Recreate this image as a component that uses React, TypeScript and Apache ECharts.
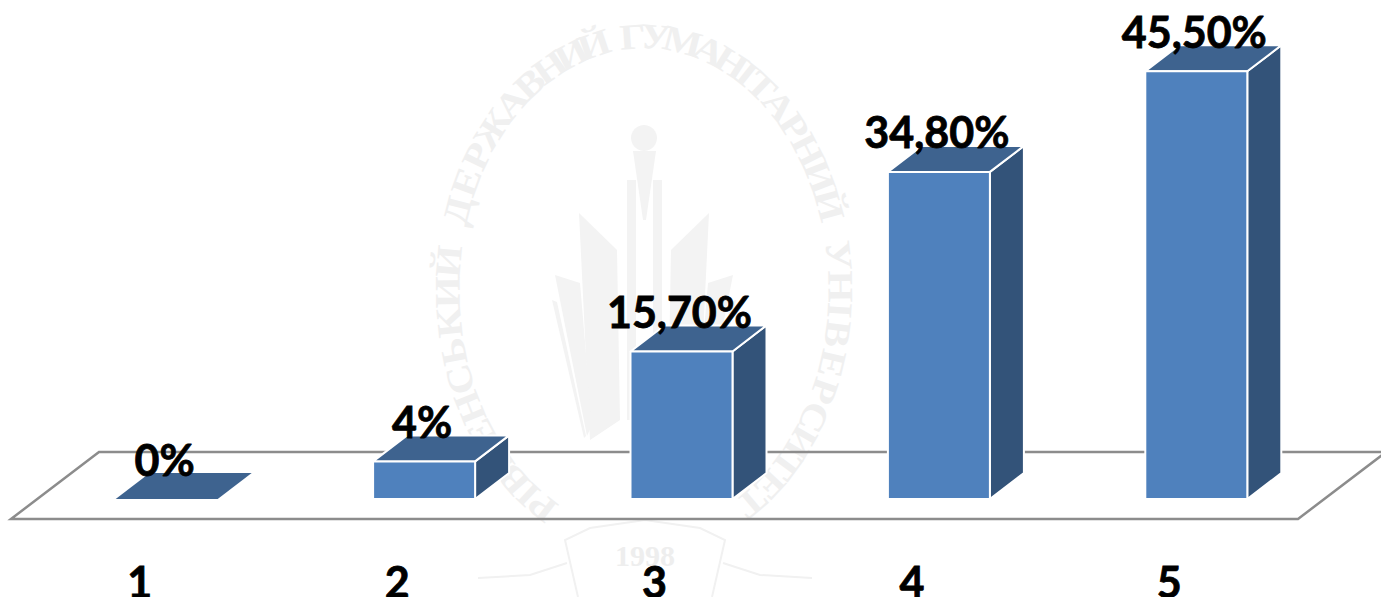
import React, { useEffect, useRef } from "react";
import * as echarts from "echarts";

const categories = ["1", "2", "3", "4", "5"];
const values = [0, 4, 15.7, 34.8, 45.5];
const valueLabels = ["0%", "4%", "15,70%", "34,80%", "45,50%"];

const WATERMARK_TEXT = "РІВНЕНСЬКИЙ ДЕРЖАВНИЙ ГУМАНІТАРНИЙ УНІВЕРСИТЕТ";
const WM = "#f0f0f0";
const WM2 = "#f3f3f3";
const FONT = "Lato, Carlito, sans-serif";

function watermark(): any[] {
  const cx = 644, cy = 290, rx = 197, ry = 254;
  const chars = Array.from(WATERMARK_TEXT);
  const weight = (c: string) =>
    c === " " ? 0.7 : c === "І" ? 0.55 : "ЖШЩМ".includes(c) ? 1.3 : c === "Г" || c === "Т" || c === "Р" || c === "Ь" ? 0.9 : 1;
  const total = chars.reduce((s, c) => s + weight(c), 0);
  const items: any[] = [];
  let acc = 0;
  chars.forEach((ch) => {
    const w = weight(ch);
    const mid = acc + w / 2;
    acc += w;
    if (ch === " ") return;
    const t = ((-152 + (mid / total) * 302) * Math.PI) / 180;
    items.push({
      type: "text",
      z: 0,
      silent: true,
      x: cx + rx * Math.sin(t),
      y: cy - ry * Math.cos(t),
      rotation: -Math.atan2(ry * Math.sin(t), rx * Math.cos(t)),
      scaleX: 1.15,
      style: {
        text: ch,
        fill: WM,
        font: 'bold 36px "Liberation Serif", serif',
        align: "center",
        verticalAlign: "middle",
      },
    });
  });
  const poly = (points: number[][]) => ({
    type: "polygon",
    z: 0,
    silent: true,
    shape: { points },
    style: { fill: WM2 },
  });
  const mirror = (pts: number[][]) => pts.map(([x, y]) => [1288 - x, y]);
  const book1 = [[579, 213], [617, 250], [620, 420], [590, 440]];
  const book2 = [[555, 275], [580, 283], [592, 425], [587, 436]];
  const book3 = [[552, 300], [557, 302], [586, 436], [584, 438]];
  items.push(
    poly(book1), poly(book2), poly(book3),
    poly(mirror(book1)), poly(mirror(book2)), poly(mirror(book3)),
    poly([[627, 180], [636, 180], [636, 420], [627, 420]]),
    poly([[653, 180], [662, 180], [662, 420], [653, 420]]),
    poly([[633, 151], [656, 151], [646, 220], [643, 220]]),
    { type: "circle", z: 0, silent: true, shape: { cx: 644, cy: 138, r: 13 }, style: { fill: WM2 } },
    {
      type: "polyline", z: 0, silent: true,
      shape: { points: [[578, 597], [565, 540], [590, 528], [645, 520], [700, 528], [725, 540], [712, 597]] },
      style: { fill: "none", stroke: "#f1f1f1", lineWidth: 2 },
    },
    {
      type: "polyline", z: 0, silent: true,
      shape: { points: [[478, 578], [530, 575], [567, 563]] },
      style: { fill: "none", stroke: "#f1f1f1", lineWidth: 2 },
    },
    {
      type: "polyline", z: 0, silent: true,
      shape: { points: [[812, 578], [760, 575], [723, 563]] },
      style: { fill: "none", stroke: "#f1f1f1", lineWidth: 2 },
    },
    {
      type: "text", z: 0, silent: true, x: 645, y: 555,
      style: {
        text: "1998", fill: "#eeeeee",
        font: 'bold 30px "Liberation Serif", serif',
        align: "center", verticalAlign: "middle",
      },
    }
  );
  return items;
}

// Offsets of the 3D box relative to the axis position
const FRONT_DX = 27, FRONT_DY = -20, DEPTH_DX = 34, DEPTH_DY = -26, HALF = 51;

export default function App() {
  const ref = useRef<HTMLDivElement>(null);
  useEffect(() => {
    document.body.style.margin = "0";
    const chart = echarts.init(ref.current!, null, { renderer: "svg" });
    chart.setOption({
      animation: false,
      backgroundColor: "#ffffff",
      grid: { left: 11, width: 1287, top: 49, bottom: 78, containLabel: false, outerBoundsMode: "none" },
      xAxis: {
        type: "category",
        data: categories,
        axisLine: { show: false },
        axisTick: { show: false },
        axisLabel: {
          fontFamily: FONT, fontWeight: "bold", fontSize: 43, color: "#000", margin: 41,
          textBorderColor: "#000", textBorderWidth: 0.8,
        },
      },
      yAxis: { type: "value", min: 0, max: 50, show: false, splitLine: { show: false } },
      graphic: { elements: watermark() },
      series: [
        {
          type: "custom",
          z: 1,
          silent: true,
          clip: false,
          coordinateSystem: "cartesian2d",
          data: [[0, 0]],
          renderItem: (params: any) => {
            const c = params.coordSys;
            const bottom = c.y + c.height, r = c.x + c.width;
            return {
              type: "polygon",
              shape: {
                points: [[c.x, bottom], [r, bottom], [r + 88, bottom - 67], [c.x + 88, bottom - 67]],
              },
              style: { fill: "none", stroke: "#8c8c8c", lineWidth: 2.5 },
            };
          },
        },
        {
          type: "custom",
          z: 3,
          silent: true,
          clip: false,
          coordinateSystem: "cartesian2d",
          data: values.map((v, i) => [i, v]),
          renderItem: (params: any, api: any) => {
            const val = api.value(1);
            const base = api.coord([api.value(0), 0]);
            const top = api.coord([api.value(0), val]);
            const xl = base[0] + FRONT_DX - HALF, xr = base[0] + FRONT_DX + HALF;
            const yb = base[1] + FRONT_DY, yt = top[1] + FRONT_DY;
            const white = { stroke: "#ffffff", lineWidth: 2, lineJoin: "round" };
            const children: any[] = [];
            if (val > 0) {
              children.push({
                type: "polygon",
                shape: { points: [[xr, yb], [xr + DEPTH_DX, yb + DEPTH_DY], [xr + DEPTH_DX, yt + DEPTH_DY], [xr, yt]] },
                style: { fill: "#335379", ...white },
              });
            }
            children.push({
              type: "polygon",
              shape: { points: [[xl, yt], [xr, yt], [xr + DEPTH_DX, yt + DEPTH_DY], [xl + DEPTH_DX, yt + DEPTH_DY]] },
              style: val > 0 ? { fill: "#3e638f", ...white } : { fill: "#3e638f" },
            });
            if (val > 0) {
              children.push({
                type: "rect",
                shape: { x: xl, y: yt, width: xr - xl, height: yb - yt },
                style: { fill: "#4f81bd", ...white },
              });
            }
            return { type: "group", children };
          },
        },
        {
          type: "custom",
          z: 4,
          silent: true,
          clip: false,
          coordinateSystem: "cartesian2d",
          data: values.map((v, i) => [i, v]),
          renderItem: (params: any, api: any) => {
            const top = api.coord([api.value(0), api.value(1)]);
            return {
              type: "text",
              style: {
                text: valueLabels[params.dataIndex],
                x: top[0] + FRONT_DX - 2,
                y: top[1] + FRONT_DY - 40,
                fill: "#000",
                stroke: "#000",
                lineWidth: 0.8,
                font: `bold 43px ${FONT}`,
                align: "center",
                verticalAlign: "middle",
              },
            };
          },
        },
      ],
    });
    return () => chart.dispose();
  }, []);
  return <div ref={ref} style={{ position: "absolute", left: 0, top: 0, width: 1381, height: 597 }} />;
}
